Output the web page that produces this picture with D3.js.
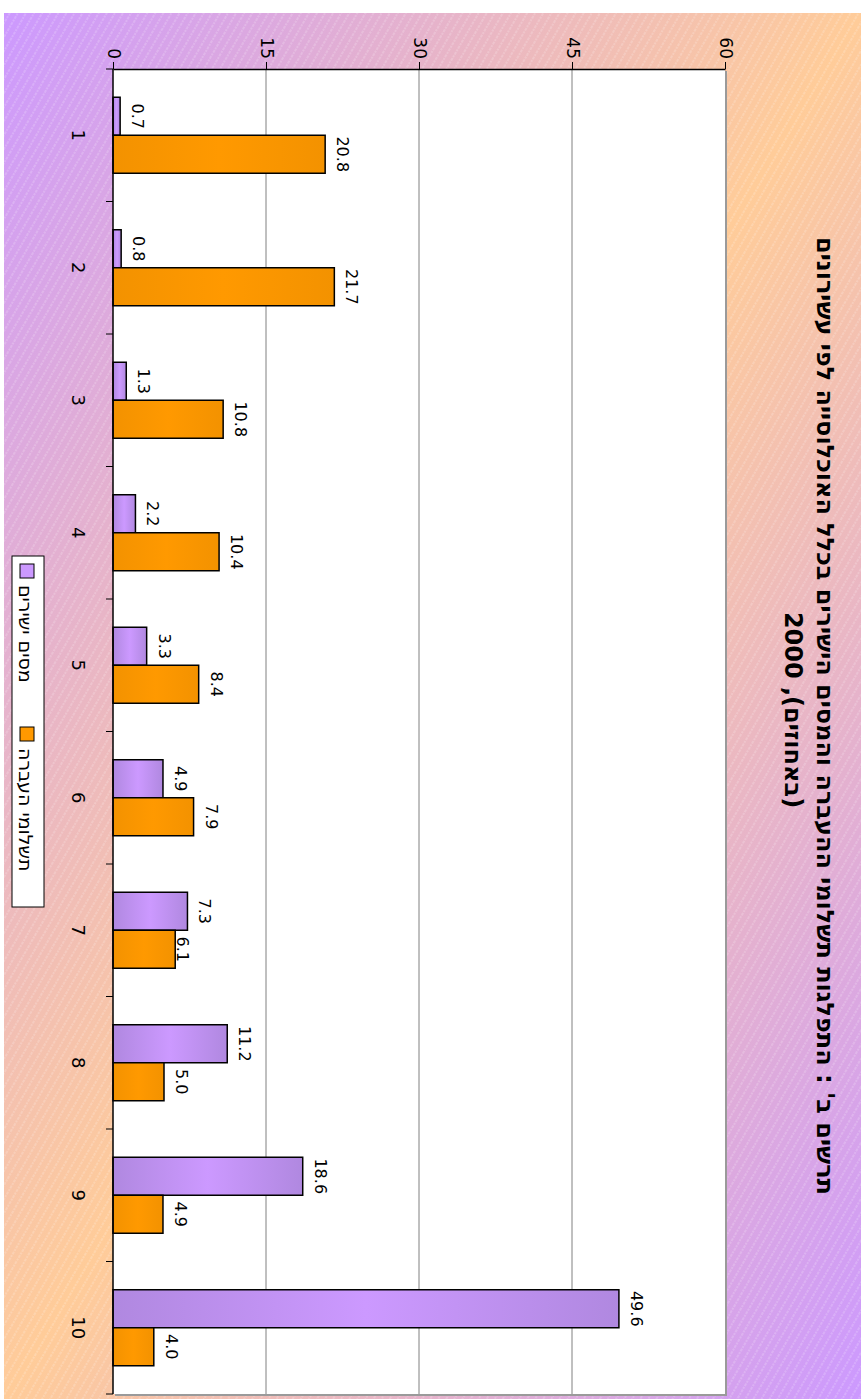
<!DOCTYPE html>
<html>
<head>
<meta charset="utf-8">
<script src="https://cdn.jsdelivr.net/npm/d3@7"></script>
<style>
  html, body { margin: 0; padding: 0; background: #ffffff; }
  svg { display: block; }
  text { font-family: "DejaVu Sans", Verdana, sans-serif; fill: #000; }
</style>
</head>
<body>
<svg id="chart" width="861" height="1399"></svg>
<script>
// ---------- data ----------
const categories = ["1", "2", "3", "4", "5", "6", "7", "8", "9", "10"];
const seriesNames = ["מסים ישירים", "תשלומי העברה"];
const directTaxes = [0.7, 0.8, 1.3, 2.2, 3.3, 4.9, 7.3, 11.2, 18.6, 49.6];
const transferPayments = [20.8, 21.7, 10.8, 10.4, 8.4, 7.9, 6.1, 5.0, 4.9, 4.0];
const valueTicks = [0, 15, 30, 45, 60];
const titleLine1 = "תרשים ב' : התפלגות תשלומי ההעברה והמסים הישירים בכלל האוכלוסייה לפי עשירונים";
const titleLine2 = "(באחוזים), 2000";

// ---------- layout ----------
const W = 861, H = 1399;
const plot = { left: 113, right: 725, top: 69, bottom: 1394 };
const labelNudge = { "7|1": -10 }; // label moved closer to its bar in the reference

const svg = d3.select("#chart");
const defs = svg.append("defs");

const bgGrad = defs.append("linearGradient").attr("id", "bgGrad")
  .attr("x1", 0).attr("y1", 0).attr("x2", 1).attr("y2", 1);
bgGrad.append("stop").attr("offset", 0).attr("stop-color", "#cc99ff");
bgGrad.append("stop").attr("offset", 0.5).attr("stop-color", "#ffcc99");
bgGrad.append("stop").attr("offset", 1).attr("stop-color", "#cc99ff");

const hatch = defs.append("pattern").attr("id", "hatch")
  .attr("patternUnits", "userSpaceOnUse").attr("width", 7).attr("height", 7)
  .attr("patternTransform", "rotate(30)");
hatch.append("line").attr("x1", 1).attr("y1", 0).attr("x2", 1).attr("y2", 7)
  .attr("stroke", "#ffffff").attr("stroke-opacity", 0.35).attr("stroke-width", 1)
  .attr("stroke-dasharray", "2,1");

const purpleGrad = defs.append("linearGradient").attr("id", "purpleGrad")
  .attr("x1", 0).attr("y1", 0).attr("x2", 1).attr("y2", 0);
purpleGrad.append("stop").attr("offset", 0).attr("stop-color", "#b088e0");
purpleGrad.append("stop").attr("offset", 0.5).attr("stop-color", "#cc99ff");
purpleGrad.append("stop").attr("offset", 1).attr("stop-color", "#b088e0");

const orangeGrad = defs.append("linearGradient").attr("id", "orangeGrad")
  .attr("x1", 0).attr("y1", 0).attr("x2", 1).attr("y2", 0);
orangeGrad.append("stop").attr("offset", 0).attr("stop-color", "#f39200");
orangeGrad.append("stop").attr("offset", 0.5).attr("stop-color", "#ff9900");
orangeGrad.append("stop").attr("offset", 1).attr("stop-color", "#f39200");

const fills = ["url(#purpleGrad)", "url(#orangeGrad)"];
const legendFills = ["#cc99ff", "#ff9900"];

// background
svg.append("rect").attr("x", 4).attr("y", 13).attr("width", W - 4).attr("height", H - 13)
  .attr("fill", "url(#bgGrad)");
svg.append("rect").attr("x", 4).attr("y", 13).attr("width", W - 4).attr("height", H - 13)
  .attr("fill", "url(#hatch)");

// scales
const x = d3.scaleLinear().domain([0, 60]).range([plot.left, plot.right]);
const y = d3.scaleBand().domain(categories).range([plot.top, plot.bottom])
  .paddingInner(0.4264).paddingOuter(0.2132);
const ySub = d3.scaleBand().domain([0, 1]).range([0, y.bandwidth()]);

// plot area
svg.append("rect").attr("x", plot.left + 2).attr("y", plot.top + 2)
  .attr("width", plot.right - plot.left).attr("height", plot.bottom - plot.top)
  .attr("fill", "#9a9a9a");
svg.append("rect").attr("x", plot.left).attr("y", plot.top)
  .attr("width", plot.right - plot.left).attr("height", plot.bottom - plot.top)
  .attr("fill", "#ffffff");

// gridlines
svg.append("g").selectAll("line").data(valueTicks.filter(v => v > 0 && v < 60)).join("line")
  .attr("x1", d => x(d)).attr("x2", d => x(d))
  .attr("y1", plot.top).attr("y2", plot.bottom)
  .attr("stroke", "#808080").attr("stroke-width", 1);

// bars
const rows = categories.map((c, i) => ({ c, vals: [directTaxes[i], transferPayments[i]] }));
const groups = svg.append("g").selectAll("g").data(rows).join("g")
  .attr("transform", d => `translate(0,${y(d.c)})`);
groups.selectAll("rect").data(d => d.vals.map((v, s) => ({ v, s }))).join("rect")
  .attr("x", x(0))
  .attr("y", d => ySub(d.s))
  .attr("width", d => x(d.v) - x(0))
  .attr("height", ySub.bandwidth())
  .attr("fill", d => fills[d.s])
  .attr("stroke", "#000").attr("stroke-width", 1.5);

// data labels
groups.selectAll("text").data(d => d.vals.map((v, s) => ({ v, s, c: d.c }))).join("text")
  .attr("transform", d => `translate(${x(d.v) + 12 + (labelNudge[d.c + "|" + d.s] || 0)},${ySub(d.s) + ySub.bandwidth() / 2}) rotate(90)`)
  .attr("text-anchor", "middle")
  .attr("font-size", 16)
  .text(d => d.v.toFixed(1));

// value axis (top)
const xAxis = d3.axisTop(x).tickValues(valueTicks).tickSize(7).tickSizeOuter(0).tickFormat(d3.format("d"));
const gx = svg.append("g").attr("transform", `translate(0,${plot.top})`).call(xAxis);
gx.select(".domain").attr("stroke", "#000").attr("stroke-width", 1.5);
gx.selectAll(".tick line").attr("stroke", "#000").attr("stroke-width", 1);
gx.selectAll(".tick text")
  .attr("font-family", "DejaVu Sans, sans-serif").attr("font-size", 17).attr("fill", "#000")
  .attr("text-anchor", "end").attr("x", 0).attr("y", 0).attr("dy", "0.35em")
  .attr("transform", "translate(0,-10) rotate(90)");

// category axis (left)
const yAxis = d3.axisLeft(y).tickSize(0).tickPadding(0);
const gy = svg.append("g").attr("transform", `translate(${plot.left},0)`).call(yAxis);
gy.select(".domain").remove();
gy.selectAll(".tick text")
  .attr("font-family", "DejaVu Sans, sans-serif").attr("font-size", 18).attr("fill", "#000")
  .attr("text-anchor", "middle").attr("x", 0).attr("y", 0).attr("dy", "0.35em")
  .attr("transform", "translate(-35,0) rotate(90)");
const step = y.step();
svg.append("g").selectAll("line").data(d3.range(categories.length + 1)).join("line")
  .attr("x1", plot.left - 7).attr("x2", plot.left)
  .attr("y1", i => plot.top + i * step).attr("y2", i => plot.top + i * step)
  .attr("stroke", "#000").attr("stroke-width", 1);
svg.append("line").attr("x1", plot.left).attr("x2", plot.left)
  .attr("y1", plot.top).attr("y2", plot.bottom)
  .attr("stroke", "#000").attr("stroke-width", 1.5);

// title
const t1 = svg.append("text")
  .attr("transform", "translate(817,716) rotate(90)")
  .attr("text-anchor", "middle").attr("direction", "rtl")
  .attr("font-weight", "bold").attr("font-size", 18)
  .text(titleLine1);
const len = t1.node().getComputedTextLength();
const titleSize = 18 * 958 / len;
t1.attr("font-size", titleSize);
svg.append("text")
  .attr("transform", "translate(785,710) rotate(90)")
  .attr("text-anchor", "middle").attr("direction", "rtl")
  .attr("font-weight", "bold").attr("font-size", titleSize)
  .text(titleLine2);

// legend
const lg = svg.append("g");
lg.append("rect").attr("x", 12).attr("y", 556).attr("width", 32).attr("height", 351)
  .attr("fill", "#ffffff").attr("stroke", "#000").attr("stroke-width", 1);
const legendY = [564, 727];
seriesNames.forEach((name, s) => {
  lg.append("rect").attr("x", 20).attr("y", legendY[s]).attr("width", 14).attr("height", 14)
    .attr("fill", legendFills[s]).attr("stroke", "#000").attr("stroke-width", 1);
  lg.append("text")
    .attr("transform", `translate(19,${legendY[s] + 21}) rotate(90)`)
    .attr("text-anchor", "start").attr("font-size", 19)
    .text(name);
});
</script>
</body>
</html>
